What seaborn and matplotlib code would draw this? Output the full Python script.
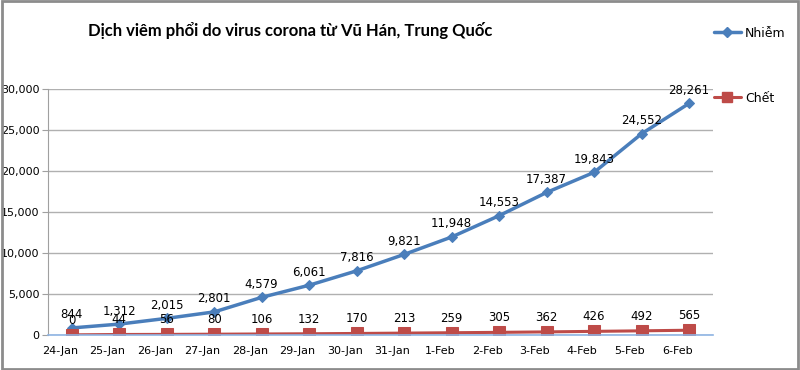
import seaborn as sns
import matplotlib.pyplot as plt
import pandas as pd
from matplotlib.patches import Rectangle
from matplotlib.lines import Line2D

# data
dates = ["24-Jan", "25-Jan", "26-Jan", "27-Jan", "28-Jan", "29-Jan", "30-Jan",
         "31-Jan", "1-Feb", "2-Feb", "3-Feb", "4-Feb", "5-Feb", "6-Feb"]
nhiem = [844, 1312, 2015, 2801, 4579, 6061, 7816, 9821, 11948, 14553, 17387,
         19843, 24552, 28261]
chet = [0, 44, 56, 80, 106, 132, 170, 213, 259, 305, 362, 426, 492, 565]

blue = "#4A7EBB"
red = "#BE4B48"

df = pd.DataFrame({"pos": range(len(dates)), "date": dates,
                   "Nhiễm": nhiem, "Chết": chet})

sns.set_style("white")
plt.rcParams["font.family"] = ["DejaVu Sans"]
plt.rcParams["text.color"] = "black"
plt.rcParams["xtick.color"] = "black"
plt.rcParams["ytick.color"] = "black"

fig = plt.figure(figsize=(8, 3.7), dpi=100)
ax = fig.add_axes([0.06, 0.095, 0.831, 0.664])

sns.lineplot(data=df, x="pos", y="Nhiễm", ax=ax, color=blue, lw=2.5,
             marker="D", markersize=5, markeredgecolor=blue)
sns.lineplot(data=df, x="pos", y="Chết", ax=ax, color=red, lw=2.2,
             marker="s", markersize=8, markeredgecolor=red)

for i in range(len(dates)):
    ax.text(i, nhiem[i] + 800, f"{nhiem[i]:,}", ha="center", va="bottom",
            fontsize=8.5)
    ax.text(i, chet[i] + 1000, f"{chet[i]:,}", ha="center", va="bottom",
            fontsize=8.5)

ax.set_xlim(-0.5, 13.5)
ax.set_ylim(0, 30000)
ax.set_yticks(range(0, 30001, 5000))
ax.set_yticklabels([f"{v:,}" for v in range(0, 30001, 5000)], fontsize=8)
ax.yaxis.grid(True, color="#B0B0B0", lw=1)
ax.set_axisbelow(True)

# labels sit a little left of the points, tick marks sit between points
ax.set_xticks([i - 0.25 for i in range(len(dates))])
ax.set_xticklabels(dates, fontsize=8)
ax.tick_params(axis="x", length=0, pad=8)
ax.set_xticks([i + 0.5 for i in range(-1, len(dates))], minor=True)
ax.tick_params(axis="x", which="minor", length=4, color="#8EB4E3", width=1)
ax.tick_params(axis="y", length=4, color="#A0A0A0", left=True, pad=2)

ax.set_xlabel("")
ax.set_ylabel("")
for s in ["top", "right"]:
    ax.spines[s].set_visible(False)
ax.spines["left"].set_color("#A0A0A0")
ax.spines["bottom"].set_color("#8EB4E3")
ax.spines["bottom"].set_linewidth(1.2)

fig.text(0.3625, 0.918, "Dịch viêm phổi do virus corona từ Vũ Hán, Trung Quốc",
         ha="center", va="center", fontsize=12, fontweight="bold",
         family=["Lato", "DejaVu Sans"])

h1 = Line2D([], [], color=blue, lw=2.5, marker="D", markersize=5)
h2 = Line2D([], [], color=red, lw=2.2, marker="s", markersize=7)
fig.legend([h1], ["Nhiễm"], loc="center left", bbox_to_anchor=(0.878, 0.91),
           frameon=False, fontsize=9, handlelength=2.2, handletextpad=0.3)
fig.legend([h2], ["Chết"], loc="center left", bbox_to_anchor=(0.878, 0.735),
           frameon=False, fontsize=9, handlelength=2.2, handletextpad=0.3)

fig.patches.append(Rectangle((0.002, 0.003), 0.996, 0.994, transform=fig.transFigure,
                             fill=False, edgecolor="#8C8C8C", lw=2))

fig.savefig("out.png", dpi=100)
